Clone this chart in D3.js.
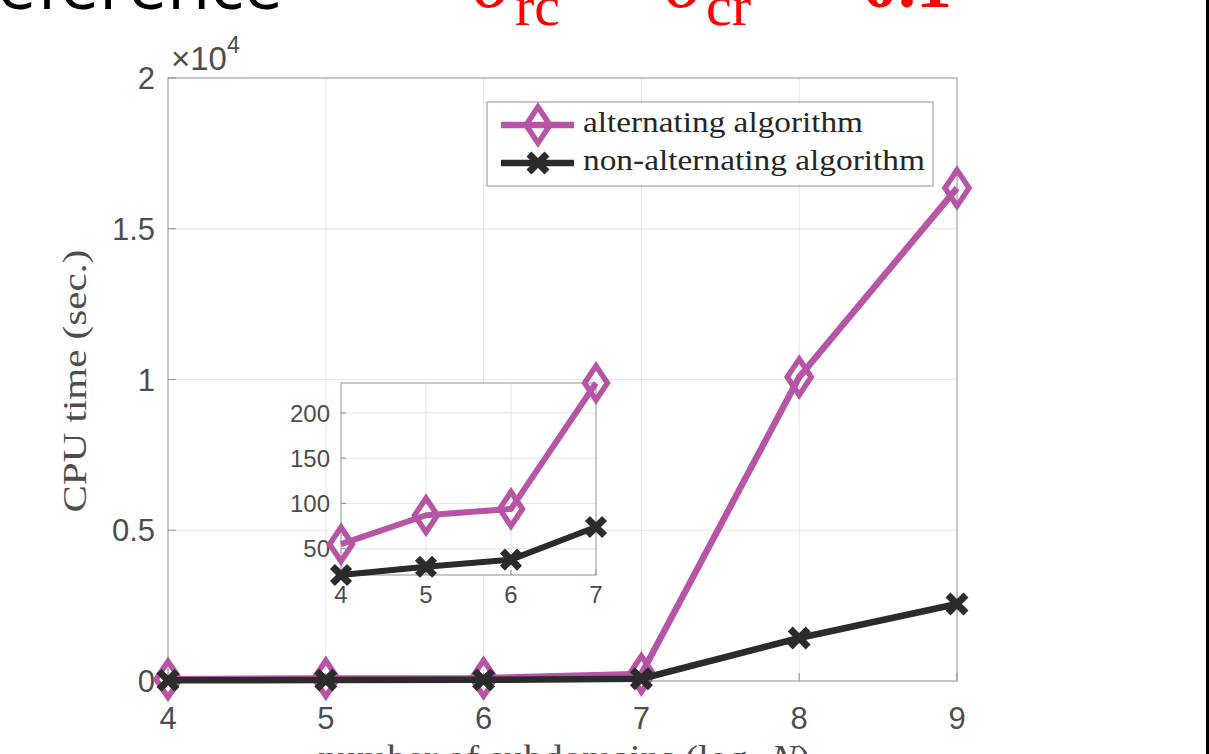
<!DOCTYPE html>
<html>
<head>
<meta charset="utf-8">
<script src="https://cdn.jsdelivr.net/npm/d3@7"></script>
<style>
  body { margin: 0; background: #fff; }
  svg { display: block; }
</style>
</head>
<body>
<svg id="chart" width="1209" height="754"></svg>
<script>
// data
const subdomains = [4, 5, 6, 7, 8, 9];
const alternating = [55, 87, 94, 233, 10080, 16350];
const nonAlternating = [21, 30, 38, 74, 1426, 2554];
const mainYTicks = [0, 5000, 10000, 15000, 20000];
const mainYLabels = ["0", "0.5", "1", "1.5", "2"];
const insetXTicks = [4, 5, 6, 7];
const insetYTicks = [50, 100, 150, 200];
const seriesNames = ["alternating algorithm", "non-alternating algorithm"];

const purple = "#b655a6", dark = "#2b2b2b";
const gridColor = "#e6e6e6", boxColor = "#8f8f8f", tickText = "#4d4d4d";
const sans = "'Liberation Sans', Arial, sans-serif";
const serif = "'Liberation Serif', 'Times New Roman', serif";

const svg = d3.select("#chart");

// slide fragments around the figure
svg.append("text")
    .attr("x", 283).attr("y", 9)
    .attr("text-anchor", "end")
    .style("font-family", "'Open Sans', sans-serif")
    .style("font-size", "70px")
    .attr("fill", "#000")
    .text("Reference");

const red = svg.append("g").attr("fill", "#ff0000").style("font-family", serif);
red.append("text").attr("x", 472).attr("y", 7).style("font-size", "80px").style("font-style", "italic").text("σ");
red.append("text").attr("x", 515).attr("y", 25).style("font-size", "58px").text("rc");
red.append("text").attr("x", 585).attr("y", -12).style("font-size", "75px").text("=");
red.append("text").attr("x", 664).attr("y", 7).style("font-size", "80px").style("font-style", "italic").text("σ");
red.append("text").attr("x", 706).attr("y", 25).style("font-size", "58px").text("cr");
red.append("text").attr("x", 775).attr("y", -12).style("font-size", "75px").text("=");
red.append("text").attr("x", 862).attr("y", 7).style("font-size", "72px").style("font-weight", "bold").text("0.1");

svg.append("rect").attr("x", 1206).attr("y", 0).attr("width", 3).attr("height", 754).attr("fill", "#000");

// main axes
const x = d3.scaleLinear().domain([4, 9]).range([168, 957]);
const y = d3.scaleLinear().domain([0, 20000]).range([681, 78]);

const main = svg.append("g");
main.append("g").selectAll("line")
    .data(subdomains.slice(1, -1))
    .join("line")
    .attr("x1", d => x(d)).attr("x2", d => x(d))
    .attr("y1", y(0)).attr("y2", y(20000))
    .attr("stroke", gridColor);
main.append("g").selectAll("line")
    .data(mainYTicks.slice(1, -1))
    .join("line")
    .attr("x1", x(4)).attr("x2", x(9))
    .attr("y1", d => y(d)).attr("y2", d => y(d))
    .attr("stroke", gridColor);

main.append("rect")
    .attr("x", x(4)).attr("y", y(20000))
    .attr("width", x(9) - x(4)).attr("height", y(0) - y(20000))
    .attr("fill", "none").attr("stroke", boxColor);

main.append("g").selectAll("line")
    .data(subdomains)
    .join("line")
    .attr("x1", d => x(d)).attr("x2", d => x(d))
    .attr("y1", y(0)).attr("y2", y(0) - 8)
    .attr("stroke", boxColor);
main.append("g").selectAll("line")
    .data(mainYTicks)
    .join("line")
    .attr("x1", x(4)).attr("x2", x(4) + 8)
    .attr("y1", d => y(d)).attr("y2", d => y(d))
    .attr("stroke", boxColor);

main.append("g").selectAll("text")
    .data(subdomains)
    .join("text")
    .attr("x", d => x(d)).attr("y", 729)
    .attr("text-anchor", "middle")
    .style("font-family", sans).style("font-size", "31px")
    .attr("fill", tickText)
    .text(d => d);
main.append("g").selectAll("text")
    .data(mainYTicks)
    .join("text")
    .attr("x", 155).attr("y", d => y(d))
    .attr("dy", "0.36em")
    .attr("text-anchor", "end")
    .style("font-family", sans).style("font-size", "31px")
    .attr("fill", tickText)
    .text((d, i) => mainYLabels[i]);

const expo = main.append("text")
    .attr("x", 171).attr("y", 70)
    .style("font-family", sans).style("font-size", "33px")
    .attr("fill", tickText);
expo.append("tspan").text("×10");
expo.append("tspan").attr("dy", -17).style("font-size", "23px").text("4");

main.append("text")
    .attr("transform", "translate(86,381) rotate(-90)")
    .attr("text-anchor", "middle")
    .attr("textLength", 263).attr("lengthAdjust", "spacingAndGlyphs")
    .style("font-family", serif).style("font-size", "33px")
    .attr("fill", tickText)
    .text("CPU time (sec.)");

const xl = main.append("text")
    .attr("x", 318).attr("y", 770)
    .attr("textLength", 492).attr("lengthAdjust", "spacingAndGlyphs")
    .style("font-family", serif).style("font-size", "36px")
    .attr("fill", tickText);
xl.append("tspan").text("number of subdomains (log");
xl.append("tspan").attr("dy", 7).style("font-size", "25px").text("2");
xl.append("tspan").attr("dy", -7).text(" ");
xl.append("tspan").style("font-style", "italic").text("N");
xl.append("tspan").text(")");

const diamond = "M0,-18L12,0L0,18L-12,0Z";
const cross = "M-9,-9L9,9M-9,9L9,-9";

function plot(g, xs, xScale, yScale, alt, non, lineW, mScale) {
    const line = d3.line().x(d => xScale(d[0])).y(d => yScale(d[1]));
    const altPts = alt.map((v, i) => [xs[i], v]);
    const nonPts = non.map((v, i) => [xs[i], v]);
    g.append("path").datum(altPts).attr("d", line)
        .attr("fill", "none").attr("stroke", purple)
        .attr("stroke-width", lineW).attr("stroke-linejoin", "round");
    g.append("g").selectAll("path")
        .data(altPts)
        .join("path")
        .attr("d", diamond)
        .attr("transform", d => `translate(${xScale(d[0])},${yScale(d[1])}) scale(${mScale})`)
        .attr("fill", "none").attr("stroke", purple).attr("stroke-width", 5.5 / mScale);
    g.append("path").datum(nonPts).attr("d", line)
        .attr("fill", "none").attr("stroke", dark)
        .attr("stroke-width", lineW).attr("stroke-linejoin", "round");
    g.append("g").selectAll("path")
        .data(nonPts)
        .join("path")
        .attr("d", cross)
        .attr("transform", d => `translate(${xScale(d[0])},${yScale(d[1])}) scale(${mScale})`)
        .attr("fill", "none").attr("stroke", dark).attr("stroke-width", 7 / mScale);
}

plot(main.append("g"), subdomains, x, y, alternating, nonAlternating, 6.5, 1);

// legend
const legend = svg.append("g");
legend.append("rect")
    .attr("x", 487).attr("y", 102).attr("width", 446).attr("height", 84)
    .attr("fill", "#fff").attr("stroke", boxColor);
const legendRows = [
    { name: seriesNames[0], color: purple, marker: diamond, sw: 5.5, y: 125, w: 280 },
    { name: seriesNames[1], color: dark, marker: cross, sw: 7, y: 163, w: 342 }
];
legendRows.forEach(r => {
    legend.append("line")
        .attr("x1", 501).attr("x2", 574).attr("y1", r.y).attr("y2", r.y)
        .attr("stroke", r.color).attr("stroke-width", 6.5);
    legend.append("path")
        .attr("d", r.marker)
        .attr("transform", `translate(538,${r.y})`)
        .attr("fill", "none").attr("stroke", r.color).attr("stroke-width", r.sw);
    legend.append("text")
        .attr("x", 583).attr("y", r.y + 7)
        .attr("textLength", r.w).attr("lengthAdjust", "spacingAndGlyphs")
        .style("font-family", serif).style("font-size", "30px")
        .attr("fill", "#262626")
        .text(r.name);
});

// inset
const ix = d3.scaleLinear().domain([4, 7]).range([341, 596]);
const iy = d3.scaleLinear().domain([21, 233]).range([575, 383]);
const inset = svg.append("g");
inset.append("rect")
    .attr("x", ix(4)).attr("y", iy(233))
    .attr("width", ix(7) - ix(4)).attr("height", iy(21) - iy(233))
    .attr("fill", "#fff");
inset.append("g").selectAll("line")
    .data(insetXTicks.slice(1, -1))
    .join("line")
    .attr("x1", d => ix(d)).attr("x2", d => ix(d))
    .attr("y1", iy(21)).attr("y2", iy(233))
    .attr("stroke", gridColor);
inset.append("g").selectAll("line")
    .data(insetYTicks)
    .join("line")
    .attr("x1", ix(4)).attr("x2", ix(7))
    .attr("y1", d => iy(d)).attr("y2", d => iy(d))
    .attr("stroke", gridColor);
inset.append("rect")
    .attr("x", ix(4)).attr("y", iy(233))
    .attr("width", ix(7) - ix(4)).attr("height", iy(21) - iy(233))
    .attr("fill", "none").attr("stroke", boxColor);
inset.append("g").selectAll("line")
    .data(insetXTicks)
    .join("line")
    .attr("x1", d => ix(d)).attr("x2", d => ix(d))
    .attr("y1", iy(21)).attr("y2", iy(21) - 5)
    .attr("stroke", boxColor);
inset.append("g").selectAll("line")
    .data(insetYTicks)
    .join("line")
    .attr("x1", ix(4)).attr("x2", ix(4) + 5)
    .attr("y1", d => iy(d)).attr("y2", d => iy(d))
    .attr("stroke", boxColor);
inset.append("g").selectAll("text")
    .data(insetXTicks)
    .join("text")
    .attr("x", d => ix(d)).attr("y", 603)
    .attr("text-anchor", "middle")
    .style("font-family", sans).style("font-size", "24px")
    .attr("fill", tickText)
    .text(d => d);
inset.append("g").selectAll("text")
    .data(insetYTicks)
    .join("text")
    .attr("x", 330).attr("y", d => iy(d))
    .attr("dy", "0.36em")
    .attr("text-anchor", "end")
    .style("font-family", sans).style("font-size", "24px")
    .attr("fill", tickText)
    .text(d => d);

plot(inset.append("g"), insetXTicks, ix, iy, alternating.slice(0, 4), nonAlternating.slice(0, 4), 6, 0.95);
</script>
</body>
</html>
